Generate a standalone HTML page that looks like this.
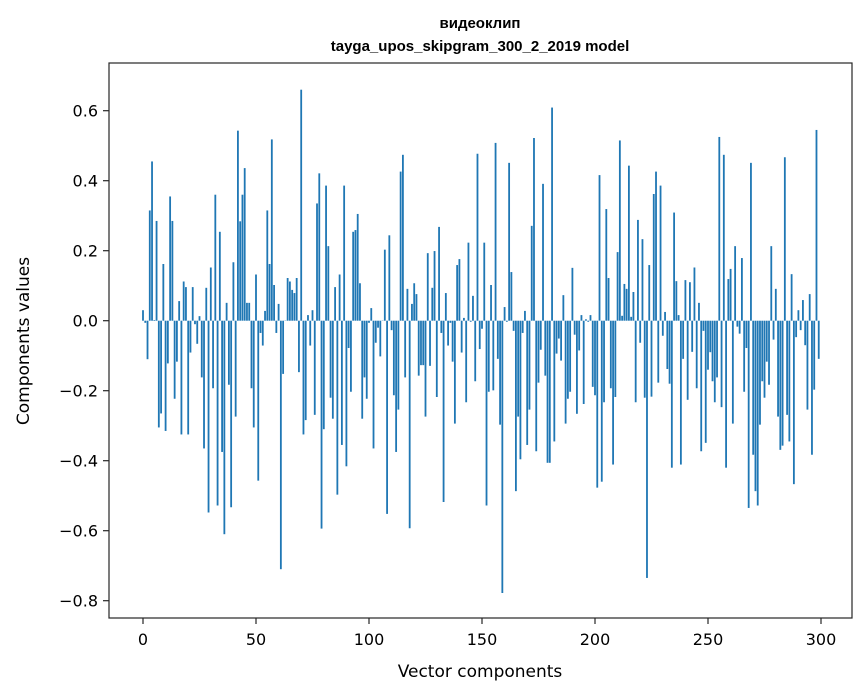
<!DOCTYPE html>
<html><head><meta charset="utf-8"><style>
html,body{margin:0;padding:0;background:#fff;}
svg{display:block;font-family:"DejaVu Sans","Liberation Sans",sans-serif;}
</style></head><body>
<svg id="chart" width="867" height="696" viewBox="0 0 867 696" xmlns="http://www.w3.org/2000/svg">
<rect width="867" height="696" fill="#fff"/>
<text x="480" y="28" text-anchor="middle" font-size="15" font-weight="bold" font-family="Liberation Sans, sans-serif">видеоклип</text>
<text x="480" y="51" text-anchor="middle" font-size="15" font-weight="bold" font-family="Liberation Sans, sans-serif">tayga_upos_skipgram_300_2_2019 model</text>
<g id="bars"></g>
<g id="yticks"></g>
<g id="xticks"></g>
<rect x="109" y="63" width="743" height="555" fill="none" stroke="#262626" stroke-width="1.2"/>
<text x="480" y="677" text-anchor="middle" font-size="17">Vector components</text>
<text transform="translate(29,341) rotate(-90)" text-anchor="middle" font-size="17">Components values</text>
</svg>
<script>
const values = [
0.03,-0.006,-0.11,0.315,0.455,0.002,0.285,-0.305,-0.265,0.162,
-0.315,-0.122,0.355,0.285,-0.223,-0.117,0.056,-0.325,0.112,0.096,
-0.325,-0.091,0.096,-0.01,-0.066,0.013,-0.162,-0.365,0.094,-0.548,
0.152,-0.193,0.36,-0.528,0.254,-0.375,-0.61,0.051,-0.183,-0.533,
0.167,-0.274,0.543,0.284,0.36,0.436,0.051,0.051,-0.193,-0.305,
0.132,-0.457,-0.035,-0.071,0.028,0.315,0.162,0.518,0.102,-0.035,
0.048,-0.71,-0.152,0.0,0.122,0.112,0.088,0.079,0.122,-0.147,
0.66,-0.325,-0.284,0.016,-0.071,0.03,-0.269,0.335,0.421,-0.594,
-0.31,0.386,0.213,-0.22,-0.28,0.096,-0.497,0.132,-0.355,0.386,
-0.416,-0.078,-0.203,0.254,0.259,0.305,0.107,-0.28,-0.162,-0.223,
-0.006,0.036,-0.365,-0.063,-0.02,-0.102,0.0,0.203,-0.552,0.244,
-0.027,-0.213,-0.375,-0.254,0.426,0.474,-0.162,0.091,-0.593,0.048,
0.107,0.076,-0.157,-0.127,-0.127,-0.274,0.193,-0.129,0.094,0.199,
-0.218,0.268,-0.035,-0.518,0.079,-0.071,-0.006,-0.117,-0.294,0.159,
0.176,-0.091,0.008,-0.233,0.223,-0.003,0.071,-0.173,0.477,-0.081,
-0.023,0.223,-0.528,-0.203,0.102,-0.199,0.508,-0.109,-0.297,-0.778,
0.039,-0.003,0.451,0.139,-0.029,-0.487,-0.274,-0.396,-0.035,0.028,
-0.355,-0.254,0.271,0.522,-0.373,-0.177,-0.083,0.391,-0.157,-0.406,
-0.406,0.609,-0.345,-0.094,-0.051,-0.114,0.073,-0.294,-0.223,-0.203,
0.151,-0.04,-0.266,-0.085,0.016,-0.238,0.004,-0.003,0.016,-0.189,
-0.213,-0.477,0.416,-0.46,-0.233,0.319,0.122,-0.193,-0.411,-0.218,
0.196,0.515,0.014,0.105,0.091,0.443,0.011,0.082,-0.233,0.288,
-0.063,0.233,-0.22,-0.735,0.159,-0.217,0.362,0.426,-0.177,0.386,
-0.043,0.025,-0.138,-0.18,-0.42,0.309,0.113,0.016,-0.411,-0.109,
0.116,-0.226,0.11,-0.089,0.152,-0.193,0.051,-0.373,-0.029,-0.349,
-0.14,-0.09,-0.173,-0.233,-0.162,0.525,-0.247,0.474,-0.42,0.119,
0.148,-0.294,0.213,-0.017,-0.037,0.179,-0.203,-0.078,-0.535,0.451,
-0.383,-0.487,-0.528,-0.297,-0.173,-0.22,-0.117,-0.183,0.213,-0.054,
0.091,-0.274,-0.369,-0.357,0.467,-0.269,-0.345,0.133,-0.467,-0.047,
0.03,-0.027,0.059,-0.07,-0.254,0.076,-0.383,-0.197,0.545,-0.109
];
const yTickValues = [-0.8,-0.6,-0.4,-0.2,0.0,0.2,0.4,0.6];
const yTickLabels = ["\u22120.8","\u22120.6","\u22120.4","\u22120.2","0.0","0.2","0.4","0.6"];
const xTickValues = [0,50,100,150,200,250,300];
const xTickLabels = ["0","50","100","150","200","250","300"];

const NS = "http://www.w3.org/2000/svg";
function xScale(v){ return 143 + 2.26 * v; }
function yScale(v){ return 320.7 - 350 * v; }

const barsG = document.getElementById('bars');
values.forEach(function(v, i){
  const r = document.createElementNS(NS, 'rect');
  const y0 = yScale(0), y1 = yScale(v);
  r.setAttribute('x', xScale(i - 0.4));
  r.setAttribute('width', 2.26 * 0.8);
  r.setAttribute('y', Math.min(y0, y1));
  r.setAttribute('height', Math.max(Math.abs(y1 - y0), 0.3));
  r.setAttribute('fill', '#1f77b4');
  
  
  barsG.appendChild(r);
});

const yG = document.getElementById('yticks');
yTickValues.forEach(function(v, i){
  const y = yScale(v);
  const l = document.createElementNS(NS, 'line');
  l.setAttribute('x1', 103); l.setAttribute('x2', 109);
  l.setAttribute('y1', y); l.setAttribute('y2', y);
  l.setAttribute('stroke', '#262626'); l.setAttribute('stroke-width', '1.2');
  
  
  yG.appendChild(l);
  const t = document.createElementNS(NS, 'text');
  t.setAttribute('x', 98); t.setAttribute('y', y + 6);
  t.setAttribute('text-anchor', 'end'); t.setAttribute('font-size', '16');
  t.textContent = yTickLabels[i];
  
  
  yG.appendChild(t);
});

const xG = document.getElementById('xticks');
xTickValues.forEach(function(v, i){
  const x = xScale(v);
  const l = document.createElementNS(NS, 'line');
  l.setAttribute('x1', x); l.setAttribute('x2', x);
  l.setAttribute('y1', 618); l.setAttribute('y2', 624);
  l.setAttribute('stroke', '#262626'); l.setAttribute('stroke-width', '1.2');
  
  
  xG.appendChild(l);
  const t = document.createElementNS(NS, 'text');
  t.setAttribute('x', x); t.setAttribute('y', 645);
  t.setAttribute('text-anchor', 'middle'); t.setAttribute('font-size', '16');
  t.textContent = xTickLabels[i];
  
  
  xG.appendChild(t);
});
</script>
</body></html>
